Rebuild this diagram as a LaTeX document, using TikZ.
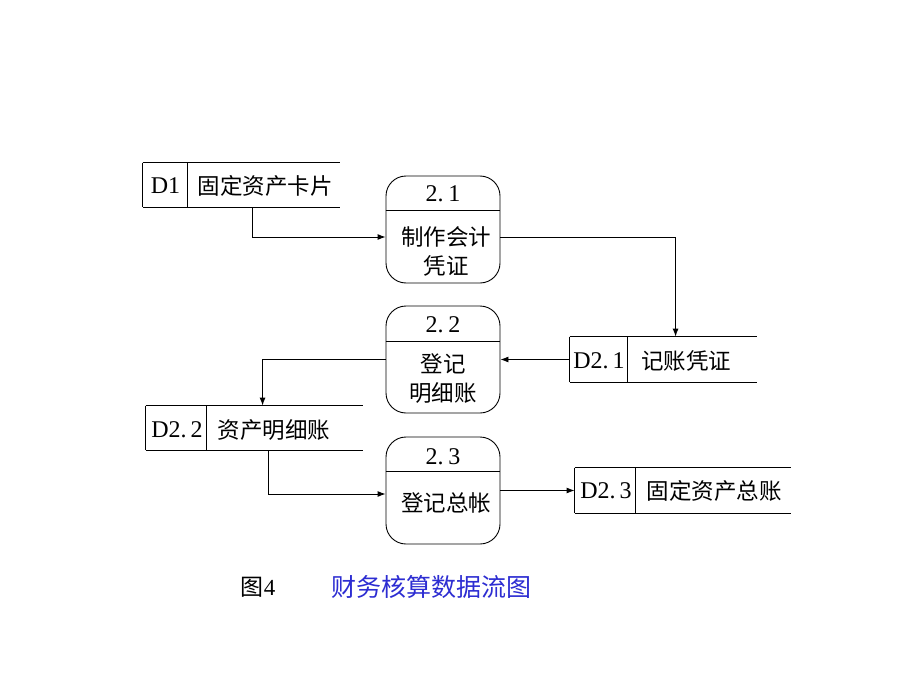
\documentclass[tikz,border=0pt]{standalone}
\usepackage{fontspec}
\setmainfont{Liberation Serif}
\newfontfamily\cjk{Noto Sans CJK SC}
\usetikzlibrary{arrows.meta,calc}
\definecolor{capblue}{RGB}{45,45,210}
\begin{document}
\begin{tikzpicture}[x=1pt,y=-1pt,
  line width=0.9pt,
  proc/.style={draw,rounded corners=20pt,minimum width=114pt,minimum height=107pt,inner sep=0pt},
  store/.style={inner sep=0pt,minimum height=45pt},
  lbl/.style={font=\fontsize{24}{28}\selectfont,inner sep=0pt,align=center},
  ctext/.style={font=\fontsize{22.5}{29}\cjk,inner sep=0pt,align=center},
  arr/.style={-{Latex[length=8pt,width=6pt]}}]
\useasboundingbox[fill=white] (0,0) rectangle (920,690);

% processes
\node[proc] (p1) at (443,229.5) {};
\node[proc] (p2) at (443,359.5) {};
\node[proc] (p3) at (443,490.5) {};
\draw ($(p1.north west)+(0,35)$) -- ($(p1.north east)+(0,35)$);
\draw ($(p2.north west)+(0,36)$) -- ($(p2.north east)+(0,36)$);
\draw ($(p3.north west)+(0,35)$) -- ($(p3.north east)+(0,35)$);
\node[lbl] (p1n) at (443,194) {2.\hspace{5pt}1};
\node[lbl] (p2n) at (443,325) {2.\hspace{5pt}2};
\node[lbl] (p3n) at (443,457) {2.\hspace{5pt}3};
\node[ctext] (p1t) at (446,251) {制作会计\\凭证};
\node[ctext] (p2t) at (443,379) {登记\\明细账};
\node[ctext] (p3t) at (446,503) {登记总帐};

% stores
\node[store,minimum width=197pt,minimum height=44pt] (s1) at (241.5,185) {};
\node[store,minimum width=187pt] (s21) at (663.5,359.5) {};
\node[store,minimum width=217pt,minimum height=44pt] (s22) at (254.5,428) {};
\node[store,minimum width=216pt] (s23) at (683,490.5) {};
\foreach \s/\d in {s1/45,s21/58,s22/61,s23/61}{
  \draw (\s.north west) -- (\s.north east);
  \draw (\s.south west) -- (\s.south east);
  \draw (\s.north west) -- (\s.south west);
  \draw ($(\s.north west)+(\d,0)$) -- ($(\s.south west)+(\d,0)$);
}
\node[lbl] (s1a) at (165.5,186) {D1};
\node[ctext] (s1b) at (265,186) {固定资产卡片};
\node[lbl] (s21a) at (599,361) {D2.\hspace{4pt}1};
\node[ctext] (s21b) at (686,361) {记账凭证};
\node[lbl] (s22a) at (177,430) {D2.\hspace{4pt}2};
\node[ctext] (s22b) at (274,430) {资产明细账};
\node[lbl] (s23a) at (606,491) {D2.\hspace{4pt}3};
\node[ctext] (s23b) at (714,491) {固定资产总账};

% flows
\draw[arr] ($(s1.south west)+(110,0)$) |- ($(p1.west)+(0,7.5)$);
\draw[arr] ($(p1.east)+(0,7.5)$) -| ($(s21.north west)+(106,0)$);
\draw[arr] (s21.west) -- (p2.east);
\draw[arr] (p2.west) -| ($(s22.north west)+(117,0)$);
\draw[arr] ($(s22.south west)+(123,0)$) |- ($(p3.west)+(0,3.5)$);
\draw[arr] (p3.east) -- (s23.west);

% caption
\node[inner sep=0pt,font=\fontsize{23}{26}\selectfont] (cap1) at (258,587) {{\cjk 图}4};
\node[inner sep=0pt,font=\fontsize{25}{28}\cjk,text=capblue] (cap2) at (431,587) {财务核算数据流图};
\end{tikzpicture}
\end{document}
